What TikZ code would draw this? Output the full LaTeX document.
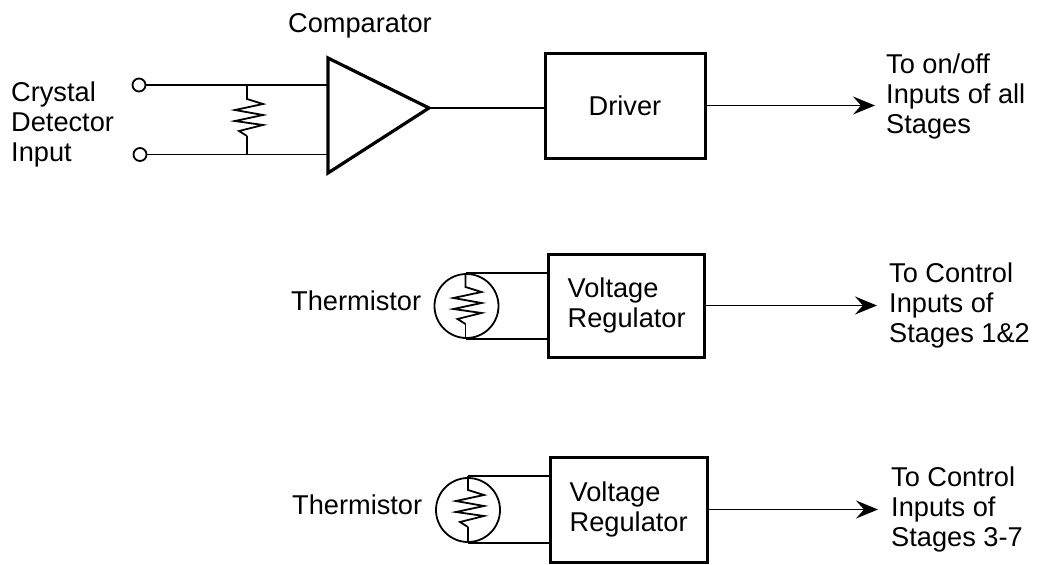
\documentclass[tikz,border=0pt]{standalone}
\usepackage{fontspec}
\setmainfont{Liberation Sans}
\usetikzlibrary{arrows.meta, positioning}

\tikzset{
  blockbox/.style={draw, line width=3pt},
  wire/.style={line width=1.8pt},
  outwire/.style={wire, -{Stealth[length=22pt,width=18pt,inset=8pt]}},
  lbl/.style={align=left, inner sep=0pt, anchor=west},
  baselbl/.style={inner sep=0pt, anchor=base west},
  terminal/.style={circle, draw, line width=1.8pt, minimum size=13pt, inner sep=0pt},
  sensor/.style={circle, draw, line width=1.8pt, minimum size=64pt, inner sep=0pt},
  zigres/.pic={
    \draw[wire] (0,0) -- (0,14) -- (16,19) -- (-12,25) -- (16,30) -- (-12,36)
      -- (16,40) -- (-8,46) -- (0,51);
  }
}

\begin{document}
\begin{tikzpicture}[x=1pt, y=-1pt, every node/.style={font=\fontsize{27.2}{30}\selectfont}]
\useasboundingbox (0,0) rectangle (1039,565);

% Nodes
\node (drv) [blockbox, minimum width=160pt, minimum height=105pt] at (625,105.5) {Driver};
\node (vr1) [blockbox, minimum width=156pt, minimum height=103pt] at (626,305.5) {};
\node (vr2) [blockbox, minimum width=157pt, minimum height=105pt] at (628.5,509.5) {};
\node (vr1txt) [lbl, right=21pt of vr1.west] {Voltage\\Regulator};
\node (vr2txt) [lbl, right=21pt of vr2.west] {Voltage\\Regulator};

\node (cmptxt) [baselbl] at (288,32) {Comparator};
\node (in1) [terminal] at (139,85) {};
\node (in2) [terminal] at (140,154.5) {};
\node (intxt) [lbl] at (11,124) {Crystal\\Detector\\Input};

\node (th1) [sensor] at (466.5,306) {};
\node (th2) [sensor] at (468,510) {};
\node (th1txt) [baselbl] at (291,310) {Thermistor};
\node (th2txt) [baselbl] at (292,514) {Thermistor};

\node (out1) [lbl] at (886,96) {To on/off\\Inputs of all\\Stages};
\node (out2) [lbl] at (889,305.5) {To Control\\Inputs of\\Stages 1\&2};
\node (out3) [lbl] at (891,509) {To Control\\Inputs of\\Stages 3-7};

% Comparator
\coordinate (cpp) at (328,85);
\coordinate (cpm) at (328,154.5);
\coordinate (cpout) at (429,108);
\draw[line width=3.2pt, line join=miter] (328,58) -- (cpout) -- (328,173) -- cycle;

% Coordinates
\coordinate (j1) at (247,85);
\coordinate (j2) at (247,154.5);
\coordinate (t1) at (465.5,273);
\coordinate (b1) at (465.5,339);
\coordinate (t2) at (468,476);
\coordinate (b2) at (468,543);
\coordinate (a1) at (875,105.5);
\coordinate (a2) at (877,305.5);
\coordinate (a3) at (878,509.5);

% Wires
\draw[wire] (in1) -- (cpp);
\draw[wire] (in2) -- (cpm);
\pic at (j1) {zigres};
\draw[wire] (j1) ++(0,51) -- (j2);
\draw[wire] (cpout) -- (cpout -| drv.west);
\draw[outwire] (drv) -- (a1);
\draw[outwire] (vr1) -- (a2);
\draw[outwire] (vr2) -- (a3);

% Thermistors
\pic at (t1) {zigres};
\draw[wire] (t1) ++(0,51) -- (b1);
\draw[wire] (t1) -- (t1 -| vr1.west);
\draw[wire] (b1) -- (b1 -| vr1.west);
\pic at (t2) {zigres};
\draw[wire] (t2) ++(0,51) -- (b2);
\draw[wire] (t2) -- (t2 -| vr2.west);
\draw[wire] (b2) -- (b2 -| vr2.west);

\end{tikzpicture}
\end{document}
